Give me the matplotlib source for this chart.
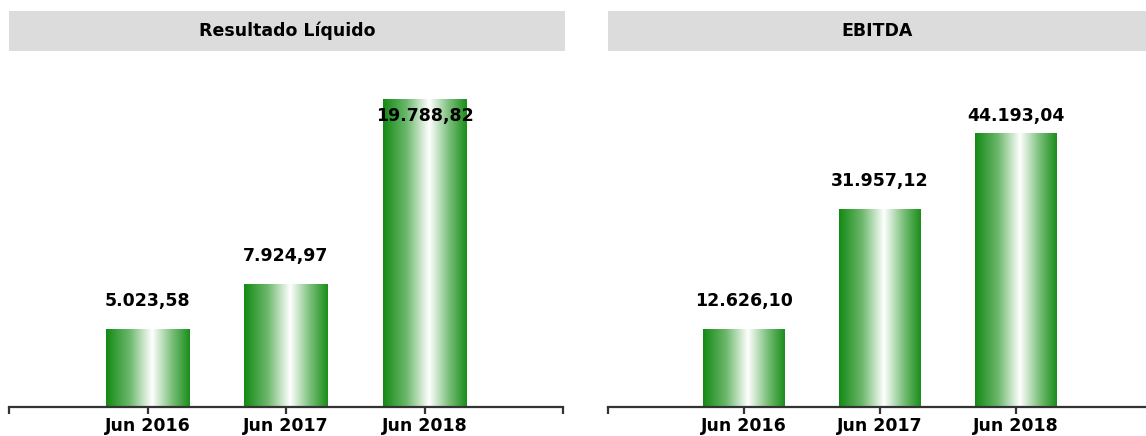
import numpy as np
import matplotlib
matplotlib.use("Agg")
import matplotlib.pyplot as plt
from matplotlib.colors import LinearSegmentedColormap
from matplotlib.patches import Rectangle

# ---- data ----
categories = ["Jun 2016", "Jun 2017", "Jun 2018"]
titles = ["Resultado Líquido", "EBITDA"]
resultado_liquido = [5023.58, 7924.97, 19788.82]
ebitda = [12626.10, 31957.12, 44193.04]
value_labels_rl = ["5.023,58", "7.924,97", "19.788,82"]
value_labels_eb = ["12.626,10", "31.957,12", "44.193,04"]

W, H = 1146, 436
fig = plt.figure(figsize=(W / 100, H / 100), dpi=100)
plt.rcParams['font.family'] = ['DejaVu Sans']

cmap = LinearSegmentedColormap.from_list(
    "bar", [(0.0, "#138a13"), (0.28, "#6cb86c"), (0.55, "#ffffff"),
            (0.8, "#74bc74"), (1.0, "#1a8e1a")])
grad = np.linspace(0, 1, 256).reshape(1, -1)

def px(x0, y0, x1, y1):
    # pixel box (top-left origin) -> figure fraction [l, b, w, h]
    return [x0 / W, 1 - y1 / H, (x1 - x0) / W, (y1 - y0) / H]

panels = [
    dict(vals=resultado_liquido, labels=value_labels_rl, title=titles[0],
         box=px(9, 60, 563, 407), ymax=22300, tbar=(9, 11, 565, 51)),
    dict(vals=ebitda, labels=value_labels_eb, title=titles[1],
         box=px(608, 60, 1152, 407), ymax=55970, tbar=(608, 11, 1146, 51)),
]

fs = 12.5
for p in panels:
    ax = fig.add_axes(p["box"])
    x = np.arange(len(categories))
    bars = ax.bar(x, p["vals"], width=0.6, color="none", edgecolor="none")
    for b in bars:
        x0, y0 = b.get_x(), b.get_y()
        w, h = b.get_width(), b.get_height()
        im = ax.imshow(grad, cmap=cmap, aspect="auto",
                       extent=[x0, x0 + w, y0, y0 + h], zorder=2)
        im.set_clip_path(b)
    ax.set_xlim(-1, 3)
    ax.set_ylim(0, p["ymax"])
    for sp in ["top", "right", "left"]:
        ax.spines[sp].set_visible(False)
    ax.spines["bottom"].set_color("#333333")
    ax.spines["bottom"].set_linewidth(1.6)
    ax.set_yticks([])
    ax.set_xticks([-1, 0, 1, 2, 3])
    ax.set_xticklabels([""] + categories + [""], fontsize=fs, fontweight="bold")
    ax.tick_params(axis="x", length=5, width=1.6, color="#333333", pad=2)
    # value labels
    for xi, v, lab in zip(x, p["vals"], p["labels"]):
        yfrac = v / p["ymax"] + 28 / 347
        yfrac = min(yfrac, 0.84)
        ax.text(xi, yfrac, lab, transform=ax.get_xaxis_transform(),
                ha="center", va="center", fontsize=fs, fontweight="bold",
                color="black", zorder=5)
    # title bar
    x0, y0, x1, y1 = p["tbar"]
    fig.add_artist(Rectangle((x0 / W, 1 - y1 / H), (x1 - x0) / W, (y1 - y0) / H,
                             transform=fig.transFigure, facecolor="#dcdcdc",
                             edgecolor="none"))
    fig.text((x0 + x1) / 2 / W, 1 - (y0 + y1) / 2 / H, p["title"],
             ha="center", va="center", fontsize=fs, fontweight="bold",
             color="black")

fig.savefig("out.png", dpi=100)
